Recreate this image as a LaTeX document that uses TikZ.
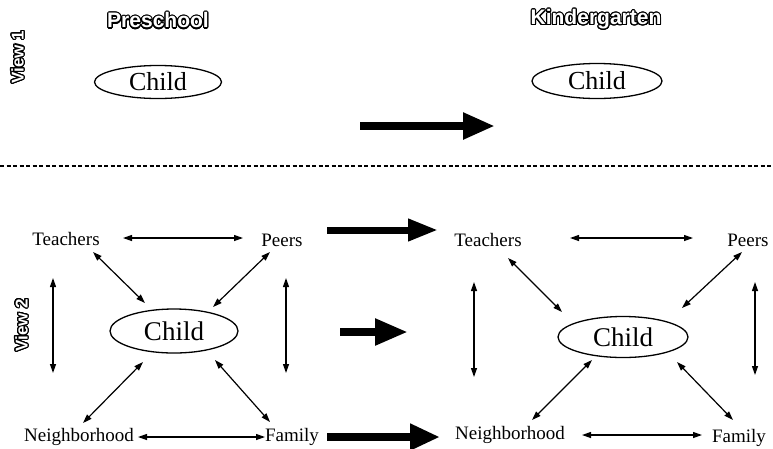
\documentclass[tikz,border=0pt]{standalone}
\usepackage{fontspec}
\setmainfont{Liberation Serif}
\newfontfamily\hdrfont{Liberation Sans}
\usepackage[copies]{contour}
\usetikzlibrary{arrows.meta,shapes.geometric,calc}
\contourlength{1.1pt}
\contournumber{24}
\newcommand{\outl}[1]{{\color{white}\contour{black}{#1}}}
\tikzset{
 lbl/.style={inner sep=0pt, font=\fontsize{19}{19}\selectfont},
 childnode/.style={ellipse, draw, line width=1.3pt, inner sep=0pt, font=\fontsize{26}{26}\selectfont},
 hdr/.style={inner sep=0pt, font=\hdrfont\bfseries\fontsize{21}{21}\selectfont},
 viewlbl/.style={inner sep=0pt, rotate=90, font=\hdrfont\bfseries\fontsize{17}{17}\selectfont},
 dbl/.style={line width=1.2pt, {Triangle[length=9pt,width=6pt]}-{Triangle[length=9pt,width=6pt]}},
 bigarrow/.style={line width=8pt, -{Triangle[length=32pt,width=25pt]}},
 dashline/.style={line width=1.2pt, dash pattern=on 4pt off 2.5pt},
}
\begin{document}
\begin{tikzpicture}[x=1pt,y=-1pt]
\path[use as bounding box] (0,0) rectangle (773,448);
% headers
\node[hdr] (pre) at (158,21) {\outl{Preschool}};
\node[hdr] (kin) at (596,20) {\outl{Kindergarten}};
\node[viewlbl] (v1) at (18,57) {\outl{View 1}};
\node[viewlbl] (v2) at (22,325) {\outl{View 2}};
% view 1
\node[childnode, minimum width=127pt, minimum height=33pt] (c1) at (158,82) {Child};
\node[childnode, minimum width=130pt, minimum height=35pt] (c2) at (597,81) {Child};
\coordinate (a1s) at (360,126); \coordinate (a1e) at (495,126);
\draw[bigarrow] (a1s) -- (a1e);
% separator
\coordinate (dl) at (0,166); \coordinate (dr) at (773,166);
\draw[dashline] (dl) -- (dr);
% view 2 left
\node[lbl] (tL) at (66,239) {Teachers};
\node[lbl] (pL) at (282,240) {Peers};
\node[childnode, minimum width=128pt, minimum height=44pt, font=\fontsize{27}{27}\selectfont] (cL) at (174,331) {Child};
\node[lbl] (nL) at (79,437) {Neighborhood};
\node[lbl] (fL) at (292,437) {Family};
\draw[dbl] ($(tL)+(57,-1)$) -- ($(pL)+(-39,-2)$);
\draw[dbl] ($(tL)+(27,13)$) -- ($(cL)+(-29,-28)$);
\draw[dbl] ($(pL)+(-12,12)$) -- ($(cL)+(39,-24)$);
\draw[dbl] ($(nL)+(4,-14)$) -- ($(cL)+(-31,31)$);
\draw[dbl] ($(fL)+(-22,-15)$) -- ($(cL)+(41,29)$);
\draw[dbl] ($(nL)+(59,0)$) -- ($(fL)+(-27,0)$);
\draw[dbl] ($(tL)+(-13,39)$) -- ($(nL)+(-26,-64)$);
\draw[dbl] ($(pL)+(4,38)$) -- ($(fL)+(-6,-64)$);
% middle arrows
\coordinate (b1s) at (327,230); \coordinate (b1e) at (438,230);
\coordinate (b2s) at (340,332); \coordinate (b2e) at (408,332);
\coordinate (b3s) at (327,437); \coordinate (b3e) at (440,437);
\draw[line width=7pt, -{Triangle[length=30pt,width=21pt]}] (b1s) -- (b1e);
\draw[line width=8pt, -{Triangle[length=33pt,width=25pt]}] (b2s) -- (b2e);
\draw[line width=8pt, -{Triangle[length=30pt,width=25pt]}] (b3s) -- (b3e);
% view 2 right
\node[lbl] (tR) at (488,240) {Teachers};
\node[lbl] (pR) at (748,240) {Peers};
\node[childnode, minimum width=130pt, minimum height=41pt, font=\fontsize{27}{27}\selectfont] (cR) at (623,337) {Child};
\node[lbl] (nR) at (510,435) {Neighborhood};
\node[lbl] (fR) at (739,438) {Family};
\draw[dbl] ($(tR)+(82,-2)$) -- ($(pR)+(-55,-2)$);
\draw[dbl] ($(tR)+(20,18)$) -- ($(cR)+(-61,-25)$);
\draw[dbl] ($(pR)+(-6,12)$) -- ($(cR)+(59,-29)$);
\draw[dbl] ($(nR)+(22,-15)$) -- ($(cR)+(-31,23)$);
\draw[dbl] ($(fR)+(-6,-18)$) -- ($(cR)+(54,25)$);
\draw[dbl] ($(nR)+(72,0)$) -- ($(fR)+(-37,-3)$);
\draw[dbl] ($(tR)+(-14,42)$) -- ($(nR)+(-36,-58)$);
\draw[dbl] ($(pR)+(7,42)$) -- ($(fR)+(16,-63)$);
\end{tikzpicture}
\end{document}
